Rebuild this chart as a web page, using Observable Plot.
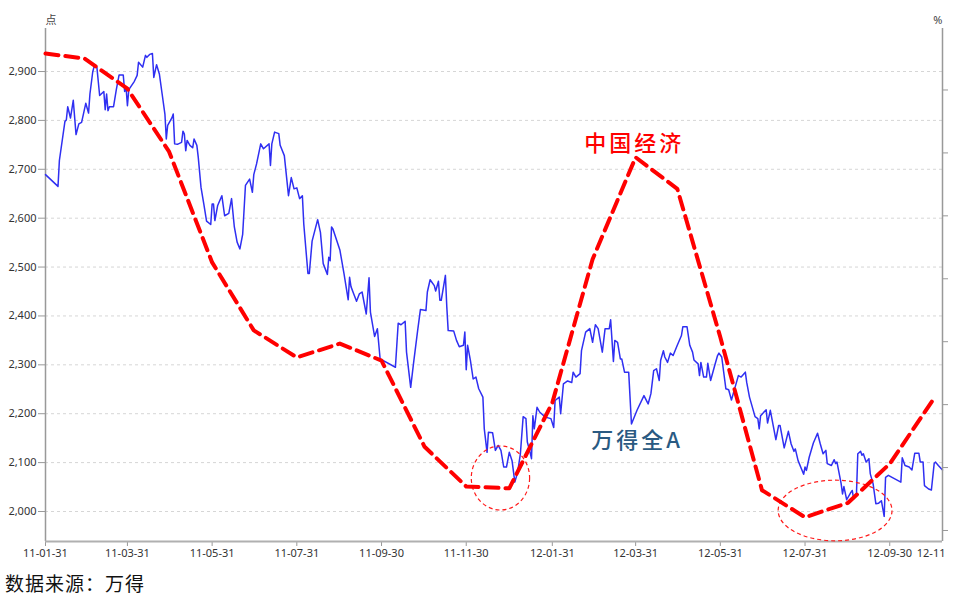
<!DOCTYPE html>
<html><head><meta charset="utf-8">
<script src="https://cdn.jsdelivr.net/npm/d3@7"></script>
<script src="https://cdn.jsdelivr.net/npm/@observablehq/plot@0.6"></script>
<style>
body{margin:0;background:#fff;}
#wrap{position:relative;width:963px;height:570px;}
#wrap svg{position:absolute;left:0;top:0;}
#caption{font-family:"Noto Sans CJK SC",sans-serif;font-size:19px;color:#111;margin-left:5px;line-height:26px;letter-spacing:1px;}
</style></head><body>
<div id="wrap"></div>
<div id="caption">数据来源：万得</div>
<script>
// ---- Wind All-A index (daily) ----
const blueDates = [
"2011-01-31","2011-02-09","2011-02-10","2011-02-14","2011-02-15","2011-02-16","2011-02-18","2011-02-20","2011-02-22","2011-02-24","2011-02-26",
"2011-03-01","2011-03-03","2011-03-04","2011-03-06","2011-03-07","2011-03-09","2011-03-11","2011-03-14","2011-03-15","2011-03-16","2011-03-17","2011-03-18","2011-03-21","2011-03-23","2011-03-25","2011-03-28","2011-03-29","2011-03-30","2011-03-31",
"2011-04-01","2011-04-05","2011-04-07","2011-04-08","2011-04-11","2011-04-13","2011-04-14","2011-04-16","2011-04-18","2011-04-19","2011-04-21","2011-04-23","2011-04-25","2011-04-27","2011-04-28","2011-04-29",
"2011-05-02","2011-05-03","2011-05-04","2011-05-06","2011-05-09","2011-05-10","2011-05-11","2011-05-12","2011-05-13","2011-05-15","2011-05-17","2011-05-18","2011-05-20","2011-05-21","2011-05-23","2011-05-25","2011-05-27","2011-05-30","2011-05-31",
"2011-06-01","2011-06-02","2011-06-04","2011-06-07","2011-06-09","2011-06-12","2011-06-14","2011-06-16","2011-06-18","2011-06-20","2011-06-22","2011-06-24","2011-06-27","2011-06-29","2011-06-30",
"2011-07-02","2011-07-05","2011-07-07","2011-07-11","2011-07-12","2011-07-13","2011-07-15","2011-07-18","2011-07-19","2011-07-22","2011-07-25","2011-07-27","2011-07-29","2011-07-31",
"2011-08-02","2011-08-04","2011-08-05","2011-08-08","2011-08-09","2011-08-11","2011-08-15","2011-08-17","2011-08-19","2011-08-22","2011-08-23","2011-08-24","2011-08-25","2011-08-26","2011-08-31",
"2011-09-03","2011-09-06","2011-09-07","2011-09-08","2011-09-10","2011-09-12","2011-09-14","2011-09-16","2011-09-19","2011-09-21","2011-09-22","2011-09-25","2011-09-27","2011-09-29",
"2011-10-10","2011-10-12","2011-10-14","2011-10-17","2011-10-18","2011-10-21","2011-10-23","2011-10-26","2011-10-28",
"2011-11-01","2011-11-02","2011-11-04","2011-11-07","2011-11-08","2011-11-10","2011-11-11","2011-11-12","2011-11-15","2011-11-16","2011-11-17","2011-11-21","2011-11-23","2011-11-25","2011-11-28","2011-11-29","2011-11-30",
"2011-12-01","2011-12-03","2011-12-05","2011-12-07","2011-12-09","2011-12-12","2011-12-13","2011-12-15","2011-12-16","2011-12-19","2011-12-21","2011-12-23","2011-12-25","2011-12-27","2011-12-29","2011-12-31",
"2012-01-02","2012-01-04","2012-01-06","2012-01-08","2012-01-10","2012-01-12","2012-01-13","2012-01-15","2012-01-16","2012-01-17","2012-01-18","2012-01-20","2012-01-22","2012-01-26","2012-01-30",
"2012-02-01","2012-02-02","2012-02-05","2012-02-06","2012-02-08","2012-02-11","2012-02-14","2012-02-15","2012-02-17","2012-02-20","2012-02-21","2012-02-24","2012-02-27","2012-02-29",
"2012-03-02","2012-03-04","2012-03-07","2012-03-09","2012-03-12","2012-03-13","2012-03-15","2012-03-16","2012-03-18","2012-03-20","2012-03-21","2012-03-23","2012-03-26","2012-03-28",
"2012-04-01","2012-04-06","2012-04-09","2012-04-11","2012-04-13","2012-04-15","2012-04-17","2012-04-18","2012-04-20","2012-04-21","2012-04-23","2012-04-25","2012-04-27","2012-04-30",
"2012-05-03","2012-05-04","2012-05-07","2012-05-09","2012-05-11","2012-05-12","2012-05-15","2012-05-16","2012-05-17","2012-05-19","2012-05-21","2012-05-22","2012-05-24","2012-05-27","2012-05-29","2012-05-30",
"2012-06-01","2012-06-04","2012-06-06","2012-06-08","2012-06-11","2012-06-13","2012-06-15","2012-06-18","2012-06-19","2012-06-21","2012-06-25","2012-06-27","2012-06-28","2012-06-29",
"2012-07-03","2012-07-04","2012-07-06","2012-07-10","2012-07-12","2012-07-13","2012-07-16","2012-07-19","2012-07-21","2012-07-23","2012-07-24","2012-07-26","2012-07-30","2012-07-31",
"2012-08-01","2012-08-03","2012-08-06","2012-08-09","2012-08-11","2012-08-13","2012-08-15","2012-08-16","2012-08-19","2012-08-21","2012-08-22","2012-08-23","2012-08-26","2012-08-27","2012-08-28","2012-08-30",
"2012-09-02","2012-09-03","2012-09-04","2012-09-06","2012-09-07","2012-09-09","2012-09-10","2012-09-11","2012-09-13","2012-09-15","2012-09-16","2012-09-18","2012-09-20","2012-09-22","2012-09-24","2012-09-26","2012-09-27","2012-09-29",
"2012-10-08","2012-10-09","2012-10-11","2012-10-14","2012-10-16","2012-10-18","2012-10-21","2012-10-22","2012-10-24","2012-10-25","2012-10-28","2012-10-30",
"2012-11-01","2012-11-02","2012-11-04","2012-11-07"
];
const blueValues = [
2689,2665,2718,2798,2801,2828,2805,2841,2771,2793,2796,
2835,2815,2854,2899,2910,2909,2851,2859,2822,2854,2820,2828,2828,2863,2893,2893,2859,2868,2830,
2863,2880,2892,2919,2909,2933,2929,2935,2937,2888,2914,2895,2854,2813,2762,2790,
2805,2813,2752,2751,2755,2778,2772,2738,2759,2749,2744,2762,2749,2725,2663,2629,2594,2587,2629,
2629,2595,2626,2646,2605,2610,2640,2582,2551,2537,2567,2667,2680,2653,2689,
2711,2752,2742,2752,2708,2752,2776,2773,2749,2728,2646,2683,2660,2662,
2640,2646,2588,2487,2487,2553,2597,2571,2507,2485,2520,2513,2582,2578,2535,
2486,2433,2479,2460,2445,2430,2445,2449,2404,2478,2408,2358,2374,2312,
2295,2385,2382,2389,2326,2254,2302,2370,2413,
2411,2449,2474,2462,2451,2471,2432,2432,2483,2419,2370,2369,2350,2337,2340,2367,2290,
2340,2309,2271,2275,2251,2234,2169,2121,2162,2161,2125,2135,2125,2091,2091,2121,
2104,2060,2080,2118,2194,2190,2142,2121,2108,2196,2169,2213,2203,2193,2190,
2172,2227,2234,2200,2261,2267,2264,2285,2275,2282,2329,2367,2374,2346,
2382,2374,2326,2374,2374,2392,2307,2350,2346,2312,2312,2285,2285,2179,
2207,2237,2220,2241,2288,2292,2268,2309,2329,2316,2305,2324,2319,2340,
2360,2378,2378,2340,2326,2310,2302,2278,2305,2275,2275,2303,2268,2299,2319,2324,
2316,2251,2249,2228,2258,2278,2275,2285,2264,2234,2194,2190,2169,2196,
2208,2181,2207,2147,2176,2176,2130,2164,2138,2123,2128,2104,2076,2091,
2084,2111,2140,2160,2138,2118,2125,2098,2094,2106,2098,2101,2057,2036,2051,2024,
2039,2043,2026,2033,2118,2123,2115,2118,2101,2108,2077,2057,2016,2017,2022,1990,2070,2074,
2060,2110,2094,2091,2085,2119,2119,2101,2101,2053,2046,2044,
2098,2101,2094,2085
];
// ---- China economy indicator (monthly, right axis) ----
const redDates = ["2011-01-31","2011-02-28","2011-03-31","2011-04-30","2011-05-31","2011-06-30","2011-07-31","2011-08-31","2011-09-30","2011-10-31","2011-11-30","2011-12-31",
"2012-01-31","2012-02-29","2012-03-31","2012-04-30","2012-05-31","2012-06-30","2012-07-31","2012-08-31","2012-09-30","2012-10-31"];
const redValues = [15.58,15.50,15.02,14.02,12.26,11.18,10.75,10.97,10.70,9.33,8.70,8.67,
10.03,12.31,13.93,13.43,11.07,8.64,8.21,8.44,9.06,10.07];

// ---- axes ----
const leftTicks = [2000,2100,2200,2300,2400,2500,2600,2700,2800,2900];
const leftDomain = [1938.6, 2988];
const rightTicks = [8,9,10,11,12,13,14,15];
const rightDomain = [7.825, 15.977];
const xDomainDates = ["2011-01-31","2012-11-07"];
const xTickDates = ["2011-01-31","2011-03-31","2011-05-31","2011-07-31","2011-09-30","2011-11-30","2012-01-31","2012-03-31","2012-05-31","2012-07-31","2012-09-30"];
const xTickLabels = ["11-01-31","11-03-31","11-05-31","11-07-31","11-09-30","11-11-30","12-01-31","12-03-31","12-05-31","12-07-31","12-09-30"];
const xEndLabel = "12-11";
const leftUnit = "点", rightUnit = "%";

// ---- annotations ----
const labelTexts = ["中国经济","万得全A"];
const labelDates = ["2012-03-30","2012-04-01"];
const labelValues = [2752, 2145];
const ellipseStart = ["2011-12-04","2012-07-12"];
const ellipseEnd = ["2012-01-15","2012-10-02"];
const ellipseLow = [2002, 1939];
const ellipseHigh = [2133, 2063];

const W = 963, H = 570, mt = 28, mb = 29, ml = 45, mr = 21;
const xDomain = xDomainDates.map(d => new Date(d));
const xTicks = xTickDates.map(d => new Date(d));
const labelMap = new Map(xTicks.map((d, i) => [+d, xTickLabels[i]]));
const blue = blueDates.map((d, i) => ({date: new Date(d), value: blueValues[i]}));
const red = redDates.map((d, i) => ({date: new Date(d), value: redValues[i]}));
const labels = labelTexts.map((t, i) => ({text: t, date: new Date(labelDates[i]), value: labelValues[i]}));
const ellipses = ellipseStart.map((d, i) => ({x1: new Date(d), x2: new Date(ellipseEnd[i]), y1: ellipseLow[i], y2: ellipseHigh[i]}));

const baseStyle = {fontFamily: '"Noto Sans", sans-serif', fontSize: "11px", color: "#333", background: "transparent", overflow: "visible"};

const ellipseMark = (index, scales) => {
  const g = d3.create("svg:g");
  for (const e of ellipses) {
    const x1 = scales.x(e.x1), x2 = scales.x(e.x2), y1 = scales.y(e.y1), y2 = scales.y(e.y2);
    g.append("ellipse")
      .attr("cx", (x1 + x2) / 2).attr("cy", (y1 + y2) / 2)
      .attr("rx", Math.abs(x2 - x1) / 2).attr("ry", Math.abs(y2 - y1) / 2)
      .attr("fill", "none").attr("stroke", "#ff1a1a").attr("stroke-width", 1.2).attr("stroke-dasharray", "4,3");
  }
  return g.node();
};

const main = Plot.plot({
  width: W, height: H, marginTop: mt, marginBottom: mb, marginLeft: ml, marginRight: mr,
  style: baseStyle,
  x: {type: "utc", domain: xDomain},
  y: {domain: leftDomain},
  marks: [
    Plot.gridY(leftTicks, {stroke: "#d6d6d6", strokeOpacity: 1, strokeDasharray: "3,3"}),
    Plot.axisY(leftTicks, {tickFormat: d3.format(","), tickSize: 7, tickPadding: 2, stroke: "#999", label: null}),
    Plot.axisX(xTicks, {tickFormat: d => labelMap.get(+d), tickSize: 5, tickPadding: 3, stroke: "#999", label: null}),
    Plot.text([xEndLabel], {x: () => xDomain[1], y: () => leftDomain[0], dy: 12, dx: 3, textAnchor: "end", fill: "#333"}),
    Plot.ruleX([xDomain[0]], {stroke: "#999", strokeWidth: 1.5}),
    Plot.ruleY([leftDomain[0]], {stroke: "#b0b0b0", strokeWidth: 2}),
    Plot.line(blue, {x: "date", y: "value", stroke: "#2f2ff2", strokeWidth: 1.5}),
    ellipseMark,
    Plot.text(labels, {x: "date", y: "value", text: "text", fill: (d, i) => i === 0 ? "#ff0000" : "#2a5a82",
      fontSize: 22, fontWeight: 500, fontFamily: '"Noto Sans CJK SC", sans-serif'}),
    Plot.text([leftUnit], {frameAnchor: "top-left", dy: -12, fill: "#444", fontFamily: '"Noto Sans CJK SC", sans-serif'})
  ]
});
d3.select(main).selectAll("text").filter(function() { return labelTexts.includes(this.textContent); }).attr("letter-spacing", "3px");

const right = Plot.plot({
  width: W, height: H, marginTop: mt, marginBottom: mb, marginLeft: ml, marginRight: mr,
  style: baseStyle,
  x: {type: "utc", domain: xDomain, axis: null},
  y: {domain: rightDomain, axis: null},
  marks: [
    Plot.axisY(rightTicks, {anchor: "right", tickFormat: () => "", tickSize: 5, stroke: "#999", label: null}),
    Plot.ruleX([xDomain[1]], {stroke: "#999", strokeWidth: 1.5}),
    Plot.line(red, {x: "date", y: "value", stroke: "#ff0000", strokeWidth: 4, strokeDasharray: "13,7"}),
    Plot.text([rightUnit], {frameAnchor: "top-right", dy: -12, fill: "#444"})
  ]
});

document.getElementById("wrap").append(main, right);
</script>
</body></html>
